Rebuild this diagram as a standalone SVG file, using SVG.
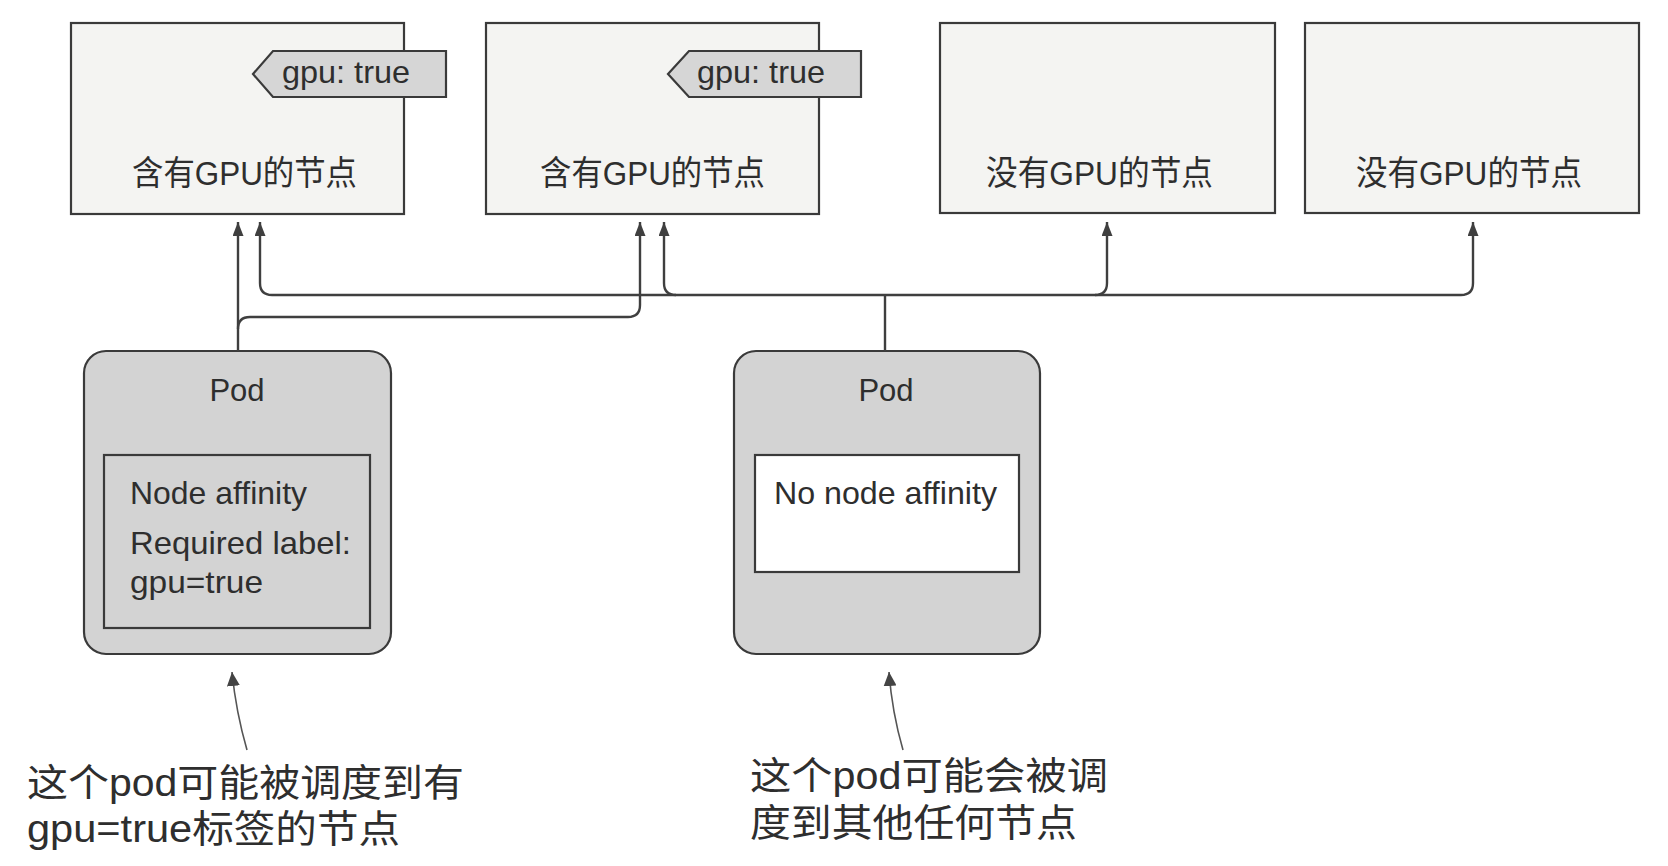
<svg xmlns="http://www.w3.org/2000/svg" width="1668" height="866" viewBox="0 0 1668 866">
<style>
.node{fill:#f4f4f2;stroke:#3a3a3a;stroke-width:2.2}
.tag{fill:#d6d6d6;stroke:#3a3a3a;stroke-width:2.2}
.pod{fill:#d3d3d3;stroke:#3a3a3a;stroke-width:2.2}
.inner{fill:#d3d3d3;stroke:#3a3a3a;stroke-width:2.2}
.innerw{fill:#ffffff;stroke:#3a3a3a;stroke-width:2.2}
.t{font-family:"Liberation Sans","Noto Sans CJK SC",sans-serif;fill:#2e2e2e}
.c{fill:none;stroke:#3f3f3f;stroke-width:2.4}
.p{fill:none;stroke:#555;stroke-width:1.6}
</style>
<defs>
<marker id="ah" markerWidth="14" markerHeight="11" refX="14" refY="5.5" orient="auto" markerUnits="userSpaceOnUse">
<path d="M0,0 L14,5.5 L0,11 Z" fill="#3f3f3f"/>
</marker>
<marker id="ahb" markerWidth="14" markerHeight="13" refX="14" refY="6.5" orient="auto" markerUnits="userSpaceOnUse">
<path d="M0,0 L14,6.5 L0,13 Z" fill="#444"/>
</marker>
</defs>
<rect width="1668" height="866" fill="#ffffff"/>

<g id="node1">
<rect class="node" x="71" y="23" width="333" height="191"/>
<polygon class="tag" points="446,51 273,51 253,74 273,97 446,97"/>
<text class="t" x="282" y="83" font-size="32" textLength="128" lengthAdjust="spacingAndGlyphs">gpu: true</text>
<text class="t" x="132" y="185" font-size="34" textLength="225" lengthAdjust="spacingAndGlyphs">含有GPU的节点</text>
</g>
<g id="node2">
<rect class="node" x="486" y="23" width="333" height="191"/>
<polygon class="tag" points="861,51 689,51 668,74 689,97 861,97"/>
<text class="t" x="697" y="83" font-size="32" textLength="128" lengthAdjust="spacingAndGlyphs">gpu: true</text>
<text class="t" x="540" y="185" font-size="34" textLength="225" lengthAdjust="spacingAndGlyphs">含有GPU的节点</text>
</g>
<g id="node3">
<rect class="node" x="940" y="23" width="335" height="190"/>
<text class="t" x="986" y="185" font-size="34" textLength="227" lengthAdjust="spacingAndGlyphs">没有GPU的节点</text>
</g>
<g id="node4">
<rect class="node" x="1305" y="23" width="334" height="190"/>
<text class="t" x="1356" y="185" font-size="34" textLength="226" lengthAdjust="spacingAndGlyphs">没有GPU的节点</text>
</g>

<g id="pod1">
<rect class="pod" x="84" y="351" width="307" height="303" rx="22"/>
<text class="t" x="237" y="401" font-size="31" text-anchor="middle">Pod</text>
<rect class="inner" x="104" y="455" width="266" height="173"/>
<text class="t" x="130" y="504" font-size="32" textLength="177" lengthAdjust="spacingAndGlyphs">Node affinity</text>
<text class="t" x="130" y="554" font-size="32" textLength="221" lengthAdjust="spacingAndGlyphs">Required label:</text>
<text class="t" x="130" y="593" font-size="32" textLength="133" lengthAdjust="spacingAndGlyphs">gpu=true</text>
</g>
<g id="pod2">
<rect class="pod" x="734" y="351" width="306" height="303" rx="22"/>
<text class="t" x="886" y="401" font-size="31" text-anchor="middle">Pod</text>
<rect class="innerw" x="755" y="455" width="264" height="117"/>
<text class="t" x="774" y="504" font-size="32" textLength="223" lengthAdjust="spacingAndGlyphs">No node affinity</text>
</g>

<g id="connectors">
<path class="c" d="M238,351 V222" marker-end="url(#ah)"/>
<path class="c" d="M238,329 Q238,317 250,317 H628 Q640,317 640,305 V222" marker-end="url(#ah)"/>
<path class="c" d="M885,351 V295"/>
<path class="c" d="M260,283 Q260,295 272,295 H1461 Q1473,295 1473,283"/>
<path class="c" d="M260,283 V222" marker-end="url(#ah)"/>
<path class="c" d="M676,295 Q664,295 664,283 V222" marker-end="url(#ah)"/>
<path class="c" d="M1095,295 Q1107,295 1107,283 V222" marker-end="url(#ah)"/>
<path class="c" d="M1473,283 V222" marker-end="url(#ah)"/>
<path class="p" d="M247,750 Q236,712 232,672" marker-end="url(#ahb)"/>
<path class="p" d="M903,750 Q892,712 889,672" marker-end="url(#ahb)"/>
</g>

<g id="notes">
<text class="t" x="27" y="796" font-size="38" textLength="437" lengthAdjust="spacingAndGlyphs">这个pod可能被调度到有</text>
<text class="t" x="27" y="842" font-size="38" textLength="373" lengthAdjust="spacingAndGlyphs">gpu=true标签的节点</text>
<text class="t" x="750" y="789" font-size="38" textLength="358" lengthAdjust="spacingAndGlyphs">这个pod可能会被调</text>
<text class="t" x="750" y="836" font-size="38" textLength="327" lengthAdjust="spacingAndGlyphs">度到其他任何节点</text>
</g>
</svg>
